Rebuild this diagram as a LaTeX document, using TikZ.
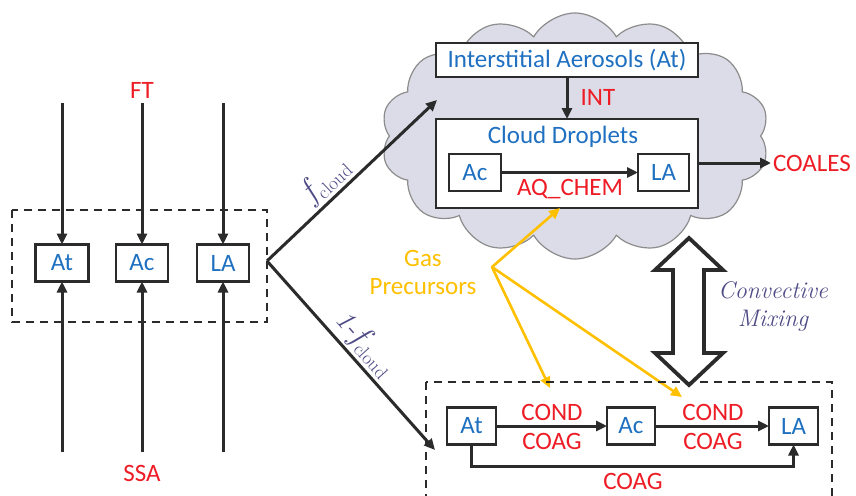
\documentclass[tikz,border=0pt]{standalone}
\usepackage{fontspec}
\setsansfont{Carlito}
\usetikzlibrary{arrows.meta,shapes.symbols}
\definecolor{boxblue}{HTML}{1F70C1}
\definecolor{lblred}{HTML}{EE1C25}
\definecolor{gasyel}{HTML}{FFC000}
\definecolor{slate}{HTML}{4E4B87}
\definecolor{cloudfill}{HTML}{DCDCE8}
\definecolor{cloudline}{HTML}{8C8C8C}
\definecolor{ink}{HTML}{2B2B2B}
\newcommand{\fcld}{{\fontsize{33}{34}\selectfont\itshape f}\kern1pt\raisebox{-6pt}{\fontsize{19}{20}\selectfont cloud}}
\begin{document}
\begin{tikzpicture}[x=1pt,y=-1pt,
  every node/.style={inner sep=0pt, outer sep=0pt},
  sans/.style={font=\sffamily\fontsize{25}{28}\selectfont},
  spbox/.style={draw=ink, line width=2.6pt, fill=white, minimum height=37pt, text=boxblue, sans},
  bigbox/.style={draw=ink, line width=2.6pt, fill=white, text=boxblue, sans},
  redlbl/.style={text=lblred, sans},
  conn/.style={draw=ink, line width=3pt, -{Triangle[length=11pt,width=10pt]}},
  gasarrow/.style={draw=gasyel, line width=2.6pt, line cap=round, -{Triangle[length=11pt,width=10pt]}},
  dashbox/.style={draw=ink, line width=2.3pt, dash pattern=on 8pt off 6pt},
  slatelbl/.style={text=slate, font=\fontsize{28}{32}\selectfont},
  slateit/.style={text=slate, font=\fontsize{24}{28}\selectfont\itshape, align=center}]
\useasboundingbox (0,0) rectangle (856,495);
\fill[white] (0,0) rectangle (856,495);
\begin{scope}
\clip (0,0) rectangle (856,495);

% cloud
\node[cloud, cloud puffs=14, cloud puff arc=120, aspect=1.55, draw=cloudline, fill=cloudfill, line width=1.2pt, minimum width=388pt, minimum height=246pt] (cloud) at (575,136) {};

% left panel
\draw[dashbox] (12,210) rectangle (267,322);
\node[spbox, minimum width=53pt] (at1) at (62,263) {At};
\node[spbox, minimum width=52pt] (ac1) at (142,263) {Ac};
\node[spbox, minimum width=52pt] (la1) at (223,263) {LA};
\coordinate (t1) at (62,103);
\coordinate (t2) at (142,103);
\coordinate (t3) at (223,103);
\coordinate (b1) at (62,452);
\coordinate (b2) at (142,452);
\coordinate (b3) at (223,452);
\node[redlbl] (ft) at (142,90) {FT};
\node[redlbl] (ssa) at (142,473) {SSA};
\draw[conn] (t1) -- (at1);
\draw[conn] (t2) -- (ac1);
\draw[conn] (t3) -- (la1);
\draw[conn] (b1) -- (at1);
\draw[conn] (b2) -- (ac1);
\draw[conn] (b3) -- (la1);

% split
\coordinate (apex) at (267,261);
\coordinate (fin) at (437,100);
\coordinate (lin) at (435,450);
\draw[conn] (apex) -- node[sloped, above=4pt, pos=0.42, slatelbl] {\fcld} (fin);
\draw[conn] (apex) -- node[sloped, above=4pt, pos=0.5, slatelbl] {{\fontsize{28}{32}\selectfont\itshape 1-}\fcld} (lin);

% cloud contents
\node[bigbox, minimum width=262pt, minimum height=34pt] (ia) at (567,60) {Interstitial Aerosols (At)};
\node[bigbox, minimum width=262pt, minimum height=89pt] (cd) at (567,163.5) {};
\node[text=boxblue, sans] (cdl) at (563,137) {Cloud Droplets};
\node[spbox, minimum width=52pt] (ac0) at (475,172.5) {Ac};
\node[spbox, minimum width=51pt] (la0) at (663.5,172.5) {LA};
\draw[conn] (ac0) -- (la0);
\node[redlbl] (aq) at (570,189) {AQ\_CHEM};
\draw[conn] (ia) -- (cd);
\node[redlbl] (int) at (598,97) {INT};
\node[redlbl, anchor=west] (coales) at (773,163) {COALES};
\draw[conn, shorten >=2pt] (cd.east |- coales) -- (coales);

% gas precursors
\node[text=gasyel, sans, align=center] (gas) at (423,272) {Gas\\Precursors};
\coordinate (gp) at (492,267);
\coordinate (g1) at (560,208);
\coordinate (g2) at (550,388);
\coordinate (g3) at (682,397);
\draw[gasarrow] (gp) -- (g1);
\draw[gasarrow] (gp) -- (g2);
\draw[gasarrow] (gp) -- (g3);

% lower panel
\draw[dashbox] (426,382) rectangle (832,530);
\node[spbox, minimum width=49pt] (at2) at (471.5,426) {At};
\node[spbox, minimum width=48pt] (ac2) at (631,426) {Ac};
\node[spbox, minimum width=49pt] (la2) at (793.5,426) {LA};
\draw[conn] (at2) -- (ac2);
\draw[conn] (ac2) -- (la2);
\node[redlbl] (cond1) at (552,412) {COND};
\node[redlbl] (coag1) at (552,441) {COAG};
\node[redlbl] (cond2) at (713,412) {COND};
\node[redlbl] (coag2) at (713,441) {COAG};
\node[redlbl] (coag3) at (633,481) {COAG};
\draw[conn] (at2.south) -- ++(0,22) -| (la2.south);

% convective mixing
\draw[draw=ink, line width=3.8pt, fill=white, line join=miter]
  (689,238) -- (723,270) -- (704,270) -- (704,353) -- (723,353) -- (689,385)
  -- (655,353) -- (673,353) -- (673,270) -- (655,270) -- cycle;
\node[slateit] (cm) at (773,306) {Convective\\Mixing};
\end{scope}
\end{tikzpicture}
\end{document}
